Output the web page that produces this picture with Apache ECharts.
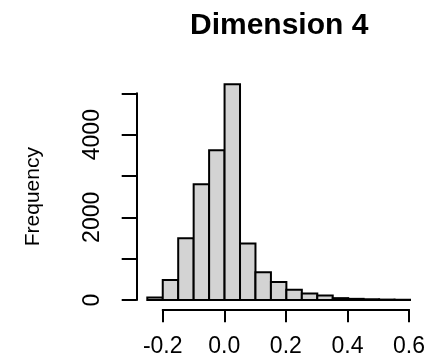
<!DOCTYPE html>
<html>
<head>
<meta charset="utf-8">
<script src="https://cdn.jsdelivr.net/npm/echarts@6/dist/echarts.min.js"></script>
<style>
  html, body { margin: 0; padding: 0; background: #fff; }
  #chart { width: 428px; height: 360px; }
</style>
</head>
<body>
<div id="chart"></div>
<script>
// histogram bins (edges) and counts
const binEdges = [-0.25, -0.2, -0.15, -0.1, -0.05, 0, 0.05, 0.1, 0.15, 0.2, 0.25, 0.3, 0.35, 0.4, 0.45, 0.5, 0.55, 0.6];
const counts = [60, 485, 1495, 2800, 3625, 5220, 1370, 670, 435, 248, 155, 110, 45, 28, 18, 10, 6];
const xTicks = [-0.2, 0.0, 0.2, 0.4, 0.6];
const yTicks = [0, 1000, 2000, 3000, 4000, 5000];

const FONT = 'Liberation Sans';
const chart = echarts.init(document.getElementById('chart'));

const bins = counts.map((c, i) => [binEdges[i], binEdges[i + 1], c]);

const option = {
  backgroundColor: '#fff',
  animation: false,
  title: {
    text: 'Dimension 4',
    left: 185,
    top: 6,
    textStyle: { fontFamily: FONT, fontWeight: 'bold', fontSize: 30, color: '#000' }
  },
  grid: [
    // data area
    { left: 147.3, right: 18, top: 72.7, bottom: 60 },
    // x axis (drawn from -0.2 to 0.6 only, offset below)
    { left: 162.7, right: 18, top: 300, bottom: 50.7 },
    // y axis (0 to 5000 only, offset left)
    { left: 136.7, width: 10, top: 93.3, bottom: 60 }
  ],
  xAxis: [
    { gridIndex: 0, type: 'value', min: -0.25, max: 0.6, show: false },
    {
      gridIndex: 1, type: 'value', min: -0.2, max: 0.6, interval: 0.2,
      axisLine: { show: true, lineStyle: { color: '#000', width: 2 } },
      axisTick: { show: true, length: 13, lineStyle: { color: '#000', width: 2 } },
      splitLine: { show: false },
      axisLabel: {
        margin: 26, fontFamily: FONT, fontSize: 23, color: '#000',
        formatter: v => xTicks.includes(Math.round(v * 10) / 10) ? v.toFixed(1) : ''
      }
    },
    { gridIndex: 2, type: 'value', show: false }
  ],
  yAxis: [
    { gridIndex: 0, type: 'value', min: 0, max: 5500, show: false },
    { gridIndex: 1, type: 'value', show: false },
    {
      gridIndex: 2, type: 'value', min: 0, max: 5000, interval: 1000,
      name: 'Frequency', nameLocation: 'middle', nameGap: 93,
      nameTextStyle: { fontFamily: FONT, fontSize: 21, color: '#000' },
      axisLine: { show: true, lineStyle: { color: '#000', width: 2 } },
      axisTick: { show: true, length: 15, lineStyle: { color: '#000', width: 2 } },
      splitLine: { show: false },
      axisLabel: {
        rotate: 90, margin: 33, fontFamily: FONT, fontSize: 23, color: '#000',
        formatter: v => (v % 2000 === 0 ? String(v) : '')
      }
    }
  ],
  series: [
    {
      type: 'custom',
      xAxisIndex: 0,
      yAxisIndex: 0,
      data: bins,
      encode: { x: [0, 1], y: 2 },
      renderItem: (params, api) => {
        const p0 = api.coord([api.value(0), api.value(2)]);
        const p1 = api.coord([api.value(1), 0]);
        return {
          type: 'rect',
          shape: { x: p0[0], y: p0[1], width: p1[0] - p0[0], height: p1[1] - p0[1] },
          style: { fill: '#d3d3d3', stroke: '#000', lineWidth: 2 }
        };
      }
    }
  ]
};

chart.setOption(option);
</script>
</body>
</html>
